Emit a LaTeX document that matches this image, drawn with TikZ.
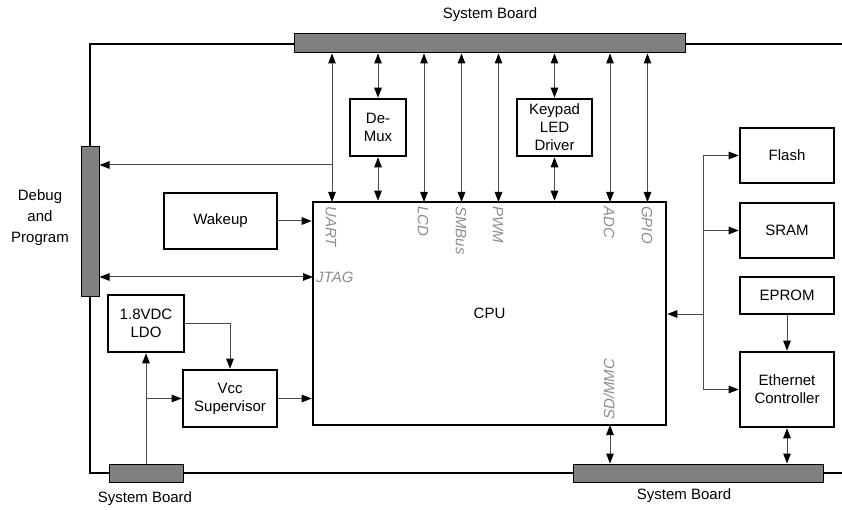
\documentclass[tikz,border=0pt]{standalone}
\usepackage{fontspec}
\setmainfont{Liberation Sans}
\usetikzlibrary{arrows.meta,positioning,calc}
\definecolor{busfill}{HTML}{808080}
\definecolor{wirec}{HTML}{4A4A4A}
\definecolor{pinc}{HTML}{8C8C8C}
\newcommand\boxfont{\fontsize{15}{18}\selectfont}
\tikzset{
  blk/.style={draw=black, line width=2.6pt, align=center, inner sep=0pt,
              font=\boxfont},
  bus/.style={draw=black, fill=busfill, line width=1pt, inner sep=0pt},
  wire/.style={draw=wirec, line width=1pt},
  frame/.style={draw=black, line width=2.8pt},
  pinlbl/.style={text=pinc, font=\boxfont\itshape, inner sep=1pt},
  caption/.style={font=\boxfont, inner sep=0pt, align=center}
}

\begin{document}
\begin{tikzpicture}[x=1pt,y=-1pt,>={Triangle[length=10pt,width=7.5pt,color=black]}]
    \useasboundingbox (0,0) rectangle (842,510);

    % Board outline
    \coordinate (fTL) at (90,44);
    \coordinate (fTR) at (842,44);
    \coordinate (fBL) at (90,473);
    \coordinate (fBR) at (842,473);
    \draw[frame] (fTR) -- (fTL) -- (fBL) -- (fBR);

    % System board connectors
    \node[bus, minimum width=391pt, minimum height=19pt] (sysTop) at (489.5,43.5) {};
    \node[bus, minimum width=74pt, minimum height=18pt] (sysBL) at (146,473) {};
    \node[bus, minimum width=250pt, minimum height=18pt] (sysBR) at (698,473) {};
    \node[bus, minimum width=18pt, minimum height=149pt] (dbg) at (90,221.5) {};
    \node[caption] (capTop) at (490,15) {System Board};
    \node[caption] (capBL) at (145,499) {System Board};
    \node[caption] (capBR) at (684,496) {System Board};
    \node[caption, font=\fontsize{15}{21}\selectfont] (capDbg) at (40,218)
      {Debug\\and\\Program};

    % Blocks
    \node[blk, minimum width=353pt, minimum height=223pt] (cpu) at (489.5,313.5) {CPU};
    \node[blk, minimum width=56pt, minimum height=57pt] (demux) at (378,127.5) {De-\\Mux};
    \node[blk, minimum width=75pt, minimum height=57pt] (keypad) at (554.5,127.5)
      {Keypad\\LED\\Driver};
    \node[blk, minimum width=113pt, minimum height=56pt] (wake) at (220.5,221) {Wakeup};
    \node[blk, minimum width=76pt, minimum height=57pt] (ldo) at (146,323.5) {1.8VDC\\LDO};
    \node[blk, minimum width=94pt, minimum height=57pt] (vcc) at (230,398.5)
      {Vcc\\Supervisor};
    \node[blk, minimum width=94pt, minimum height=55pt] (flash) at (787,155.5) {Flash};
    \node[blk, minimum width=94pt, minimum height=55pt] (sram) at (787,230.5) {SRAM};
    \node[blk, minimum width=94pt, minimum height=37pt] (eprom) at (787,295.5) {EPROM};
    \node[blk, minimum width=94pt, minimum height=75pt] (eth) at (787,389.5)
      {Ethernet\\Controller};

    % CPU pins on the top edge
    \coordinate (pUART) at (332,202);
    \coordinate (pLCD) at (424,202);
    \coordinate (pSMB) at (461.5,202);
    \coordinate (pPWM) at (498.5,202);
    \coordinate (pADC) at (610,202);
    \coordinate (pGPIO) at (647.5,202);
    \foreach \p in {pUART,pLCD,pSMB,pPWM,pADC,pGPIO}
      \draw[wire,<->] (\p |- sysTop.south) -- (\p);
    \draw[wire,<->] (demux.north |- sysTop.south) -- (demux.north);
    \draw[wire,<->] (demux.south) -- (demux.south |- cpu.north);
    \draw[wire,<->] (keypad.north |- sysTop.south) -- (keypad.north);
    \draw[wire,<->] (keypad.south) -- (keypad.south |- cpu.north);
    \node[pinlbl, rotate=-90, anchor=west] (lUART) at (331,205) {UART};
    \node[pinlbl, rotate=-90, anchor=west] (lLCD) at (423,205) {LCD};
    \node[pinlbl, rotate=-90, anchor=west] (lSMB) at (461,205) {SMBus};
    \node[pinlbl, rotate=-90, anchor=west] (lPWM) at (498,205) {PWM};
    \node[pinlbl, rotate=-90, anchor=west] (lADC) at (609,205) {ADC};
    \node[pinlbl, rotate=-90, anchor=west] (lGPIO) at (647,205) {GPIO};

    % Debug and program
    \coordinate (uTap) at (332,165);
    \draw[wire,->] (uTap) -- (uTap -| dbg.east);
    \coordinate (pJTAG) at (313,277);
    \draw[wire,<->] (pJTAG -| dbg.east) -- (pJTAG);
    \node[pinlbl, anchor=west] (lJTAG) at (315,277) {JTAG};
    \draw[wire,->] (wake.east) -- (wake.east -| cpu.west);

    % Power
    \draw[wire,->] (sysBL.north) -- (ldo.south);
    \draw[wire,->] (vcc.west -| ldo.south) -- (vcc.west);
    \draw[wire,->] (ldo.east) -| (vcc.north);
    \draw[wire,->] (vcc.east) -- (vcc.east -| cpu.west);

    % Memory side
    \coordinate (rb) at (703,314);
    \draw[wire] (flash.west -| rb) -- (eth.west -| rb);
    \draw[wire,->] (flash.west -| rb) -- (flash.west);
    \draw[wire,->] (sram.west -| rb) -- (sram.west);
    \draw[wire,->] (eth.west -| rb) -- (eth.west);
    \draw[wire,->] (rb) -- (rb -| cpu.east);
    \draw[wire,->] (eprom.south) -- (eth.north);
    \draw[wire,<->] (eth.south) -- (eth.south |- sysBR.north);

    % SD/MMC
    \coordinate (pSD) at (610,425);
    \draw[wire,<->] (pSD) -- (pSD |- sysBR.north);
    \node[pinlbl, rotate=90, anchor=west] (lSD) at (609,421) {SD/MMC};
  \end{tikzpicture}
\end{document}
